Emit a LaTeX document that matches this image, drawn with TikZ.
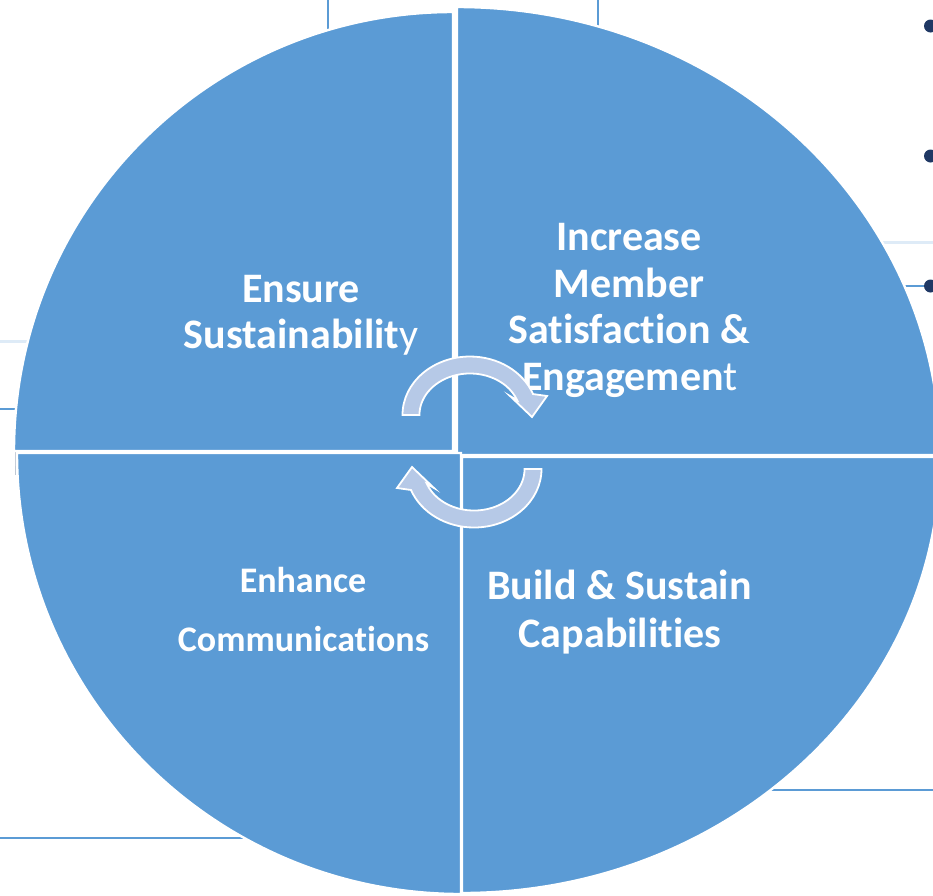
\documentclass[tikz,border=0pt]{standalone}
\usepackage{fontspec}
\setmainfont{Carlito}[Ligatures={NoCommon}]
\definecolor{quadblue}{RGB}{91,155,213}
\definecolor{cycfill}{RGB}{182,201,231}
\definecolor{guideblue}{RGB}{91,155,213}
\definecolor{faintblue}{RGB}{222,235,247}
\definecolor{edgegray}{RGB}{190,200,212}
\definecolor{bulletnavy}{RGB}{31,56,100}
\begin{document}
\begin{tikzpicture}[x=1pt,y=-1pt,
  quad/.style={fill=quadblue, draw=white, line width=2.4pt, line join=miter},
  cyc/.style={fill=cycfill, draw=white, line width=1.8pt, line join=miter},
  guide/.style={draw=guideblue, line width=2pt},
  faint/.style={draw=faintblue, line width=3pt},
  bigtxt/.style={text=white, anchor=base, inner sep=0pt,
    font=\bfseries\fontsize{42}{46}\selectfont},
  smalltxt/.style={text=white, anchor=base, inner sep=0pt,
    font=\bfseries\fontsize{36}{40}\selectfont}]
\useasboundingbox (0,0) rectangle (933,895);
\fill[white] (0,0) rectangle (933,895);

% guide lines of the slide behind the wheel
\draw[guide] (328,0) -- (328,60);
\draw[guide] (598,0) -- (598,60);
\draw[faint] (860,242) -- (933,242);
\draw[guide] (890,286) -- (928,286);
\draw[faint] (0,341) -- (60,341);
\draw[guide] (0,409) -- (40,409);
\draw[edgegray, line width=1pt] (15,452) -- (15,475);
\draw[guide] (0,838) -- (300,838);
\draw[guide] (720,790) -- (933,790);

% bullet marks at the right border
\foreach \by in {26,156,286}
  \fill[bulletnavy] (930.5,\by) circle[radius=6.5];

% the four quadrants of the wheel
\draw[quad] (453,451) -- (14,451)
  arc[start angle=180, end angle=270, radius=439] -- cycle;
\draw[quad] (457,455) -- (457,7)
  arc[start angle=270, end angle=360, x radius=483, y radius=448] -- cycle;
\draw[quad] (461,453) -- (461,894)
  arc[start angle=90, end angle=180, x radius=444, y radius=441] -- cycle;
\draw[quad] (462,457) -- (940,457)
  arc[start angle=0, end angle=90, x radius=478, y radius=436] -- cycle;

% quadrant labels
\node[bigtxt] (ensure) at (301,302) {Ensure};
\node[bigtxt] (sustain) at (301,348) {Sustainabilit{\mdseries y}};

\node[bigtxt] (increase) at (629,250.5) {Increase};
\node[bigtxt] (member) at (629,297) {Member};
\node[bigtxt] (satisf) at (629,343.5) {Satisfaction \&};
\node[bigtxt] (engage) at (630,390) {Engagemen{\mdseries t}};

\node[smalltxt] (enhance) at (303,592.5) {Enhance};
\node[smalltxt] (comms) at (303.5,651.5) {Communications};

\node[bigtxt] (build) at (619.5,599) {Build \& Sustain};
\node[bigtxt] (capab) at (620,647) {Capabilities};

% the two circular arrows in the middle
\def\cycarrow{%
  (402.5,415) arc[start angle=180, end angle=339, x radius=67.5, y radius=58.5]
  -- (547,396) -- (532,417) -- (510,396) -- (517.1,400.1)
  arc[start angle=339, end angle=180, x radius=50.5, y radius=41.5] -- cycle}
\draw[cyc] \cycarrow;
\begin{scope}[rotate around={180:(472,442)}]
  \draw[cyc] \cycarrow;
\end{scope}
\end{tikzpicture}
\end{document}
